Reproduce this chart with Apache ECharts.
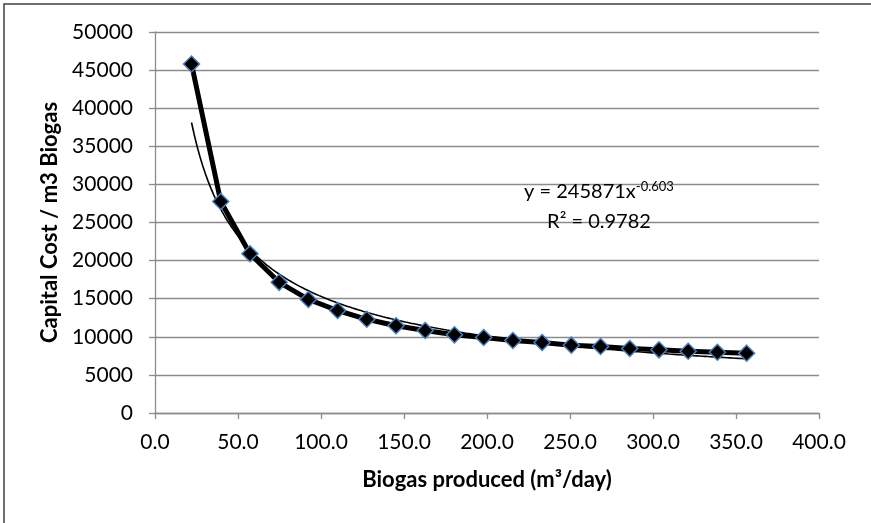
<!DOCTYPE html>
<html>
<head>
<meta charset="utf-8">
<script src="https://cdn.jsdelivr.net/npm/echarts@6/dist/echarts.min.js"></script>
<style>
html,body{margin:0;padding:0;background:#fff;}
#chart{width:871px;height:523px;}
</style>
</head>
<body>
<div id="chart"></div>
<script>
// Biogas produced (m3/day)
var biogasProduced = [22.0, 39.6, 57.2, 74.8, 92.4, 110.0, 127.6, 145.2, 162.8, 180.4,
                      198.0, 215.6, 233.2, 250.8, 268.4, 286.0, 303.6, 321.2, 338.8, 356.4];
// Capital cost per m3 biogas
var capitalCost = [45800, 27750, 20900, 17150, 14900, 13450, 12300, 11450, 10830, 10260,
                   9910, 9520, 9250, 8900, 8730, 8470, 8290, 8110, 7980, 7850];
// Power trendline coefficients shown on chart: y = a * x^b
var trendA = 245871;
var trendB = -0.603;
var trendR2 = '0.9782';
var xTicks = { min: 0, max: 400, interval: 50 };
var yTicks = { min: 0, max: 50000, interval: 5000 };

var seriesData = biogasProduced.map(function (x, i) { return [x, capitalCost[i]]; });
var trendData = [];
var x0 = biogasProduced[0], x1 = biogasProduced[biogasProduced.length - 1];
for (var k = 0; k <= 200; k++) {
  var xv = x0 + (x1 - x0) * k / 200;
  trendData.push([xv, trendA * Math.pow(xv, trendB)]);
}

var FONT = 'Lato';
var chart = echarts.init(document.getElementById('chart'));
chart.setOption({
  backgroundColor: '#ffffff',
  animation: false,
  grid: { left: 155, right: 52, top: 32, bottom: 110 },
  xAxis: {
    type: 'value',
    min: xTicks.min, max: xTicks.max, interval: xTicks.interval,
    name: 'Biogas produced (m³/day)',
    nameLocation: 'middle',
    nameGap: 56,
    nameTextStyle: { fontFamily: FONT, fontSize: 22, fontWeight: 'bold', color: '#000' },
    axisLine: { show: true, lineStyle: { color: '#8c8c8c', width: 1.3 } },
    axisTick: { show: true, length: 6, lineStyle: { color: '#8c8c8c', width: 1.3 } },
    axisLabel: { fontFamily: FONT, fontSize: 21, color: '#000', margin: 19,
      formatter: function (v) { return v.toFixed(1); } },
    splitLine: { show: false }
  },
  yAxis: {
    type: 'value',
    min: yTicks.min, max: yTicks.max, interval: yTicks.interval,
    name: 'Capital Cost / m3 Biogas',
    nameLocation: 'middle',
    nameGap: 93,
    nameRotate: 90,
    nameTextStyle: { fontFamily: FONT, fontSize: 22, fontWeight: 'bold', color: '#000' },
    axisLine: { show: true, lineStyle: { color: '#8c8c8c', width: 1.3 } },
    axisTick: { show: true, length: 6, inside: false, lineStyle: { color: '#8c8c8c', width: 1.3 } },
    axisLabel: { fontFamily: FONT, fontSize: 21, color: '#000', margin: 22,
      formatter: function (v) { return String(v); } },
    splitLine: { show: true, lineStyle: { color: '#8c8c8c', width: 1.3 } }
  },
  series: [
    {
      type: 'line',
      data: trendData,
      showSymbol: false,
      symbol: 'none',
      lineStyle: { color: '#000', width: 1.6 },
      silent: true,
      z: 2
    },
    {
      type: 'line',
      data: seriesData,
      symbol: 'diamond',
      symbolSize: 16,
      lineStyle: { color: '#000', width: 5 },
      itemStyle: { color: '#000', borderColor: '#4a7ebb', borderWidth: 1.5 },
      z: 3
    }
  ],
  graphic: [
    {
      type: 'rect',
      shape: { x: 4, y: 4, width: 1000, height: 1000 },
      style: { fill: 'none', stroke: '#404040', lineWidth: 1.5 },
      silent: true
    },
    {
      type: 'text',
      x: 599, y: 192,
      style: {
        text: '{b|y = ' + trendA + 'x}{s|' + trendB + '}',
        align: 'center', verticalAlign: 'middle',
        rich: {
          b: { fontFamily: FONT, fontSize: 20, color: '#000', lineHeight: 24 },
          s: { fontFamily: FONT, fontSize: 13, color: '#000', lineHeight: 24, padding: [0, 0, 11, 0] }
        }
      },
      z: 10
    },
    {
      type: 'text',
      x: 599, y: 222,
      style: {
        text: 'R² = ' + trendR2,
        align: 'center', verticalAlign: 'middle',
        fontFamily: FONT, fontSize: 20, fill: '#000'
      },
      z: 10
    }
  ]
});
</script>
</body>
</html>
